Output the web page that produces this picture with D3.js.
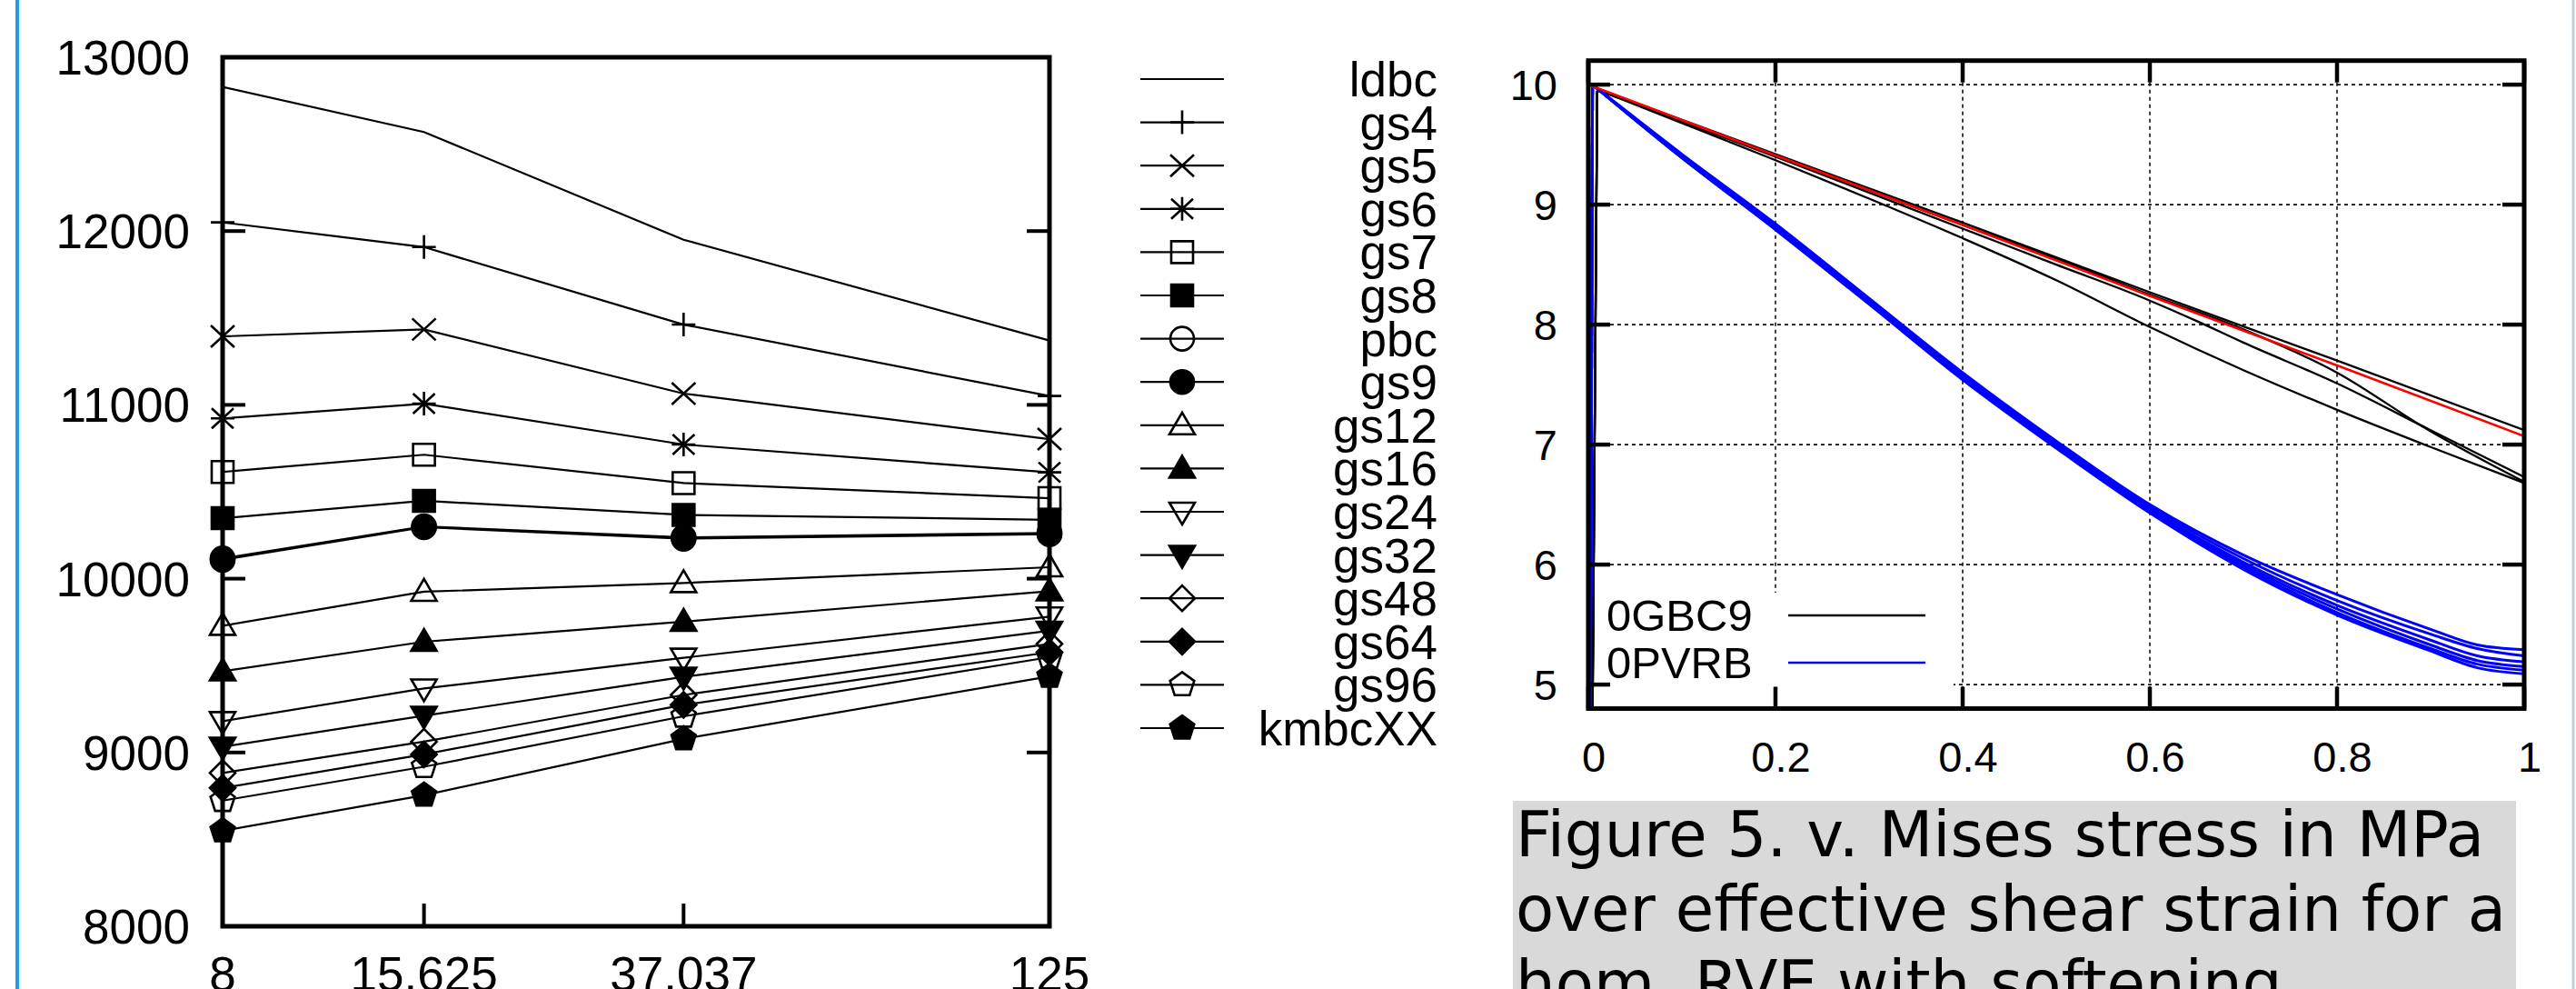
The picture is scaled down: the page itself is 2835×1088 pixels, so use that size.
<!DOCTYPE html>
<html lang="en">
<head>
<meta charset="utf-8">
<title>Figure 5</title>
<script src="https://d3js.org/d3.v7.min.js"></script>
<style>
  html, body { margin: 0; padding: 0; background: #fff; }
  svg { display: block; }
</style>
</head>
<body>
<script>
var width = 2835, height = 1088;

// ---- left chart data (stress vs. grains per RVE) ----
var sizes = [8, 15.625, 37.037, 125];
var sizeLabels = ["8", "15.625", "37.037", "125"];
var leftYTicks = [8000, 9000, 10000, 11000, 12000, 13000];
var names = ["ldbc", "gs4", "gs5", "gs6", "gs7", "gs8", "pbc", "gs9",
             "gs12", "gs16", "gs24", "gs32", "gs48", "gs64", "gs96", "kmbcXX"];
var ldbc   = [12829, 12570, 11950, 11370];
var gs4    = [12050, 11908, 11462, 11051];
var gs5    = [11394, 11434, 11065, 10803];
var gs6    = [10922, 11007, 10772, 10612];
var gs7    = [10614, 10713, 10550, 10463];
var gs8    = [10348, 10448, 10367, 10339];
var pbc    = [10108, 10296, 10230, 10256];
var gs9    = [10116, 10301, 10238, 10263];
var gs12   = [9729, 9925, 9975, 10066];
var gs16   = [9467, 9637, 9753, 9928];
var gs24   = [9180, 9368, 9545, 9782];
var gs32   = [9033, 9211, 9435, 9700];
var gs48   = [8882, 9062, 9331, 9625];
var gs64   = [8796, 8989, 9274, 9577];
var gs96   = [8723, 8918, 9208, 9548];
var kmbcXX = [8549, 8754, 9078, 9438];
var leftSeries = [ldbc, gs4, gs5, gs6, gs7, gs8, pbc, gs9, gs12, gs16, gs24, gs32, gs48, gs64, gs96, kmbcXX];

// gnuplot point type used by each series
var pointTypes = ["none", "plus", "cross", "star", "square", "squareF", "circle", "circleF",
                  "tri", "triF", "triDown", "triDownF", "diamond", "diamondF", "pent", "pentF"];

// ---- right chart data (stress in MPa vs. effective shear strain) ----
var strainTicks = [0, 0.2, 0.4, 0.6, 0.8, 1];
var strainLabels = ["0", "0.2", "0.4", "0.6", "0.8", "1"];
var stressTicks = [5, 6, 7, 8, 9, 10];
var gbcCurves = [
  [[0, 0], [0.0095, 9.94], [0.012, 9.96], [0.2, 9.42], [0.4, 8.85], [0.6, 8.27], [0.8, 7.70], [1, 7.12]],
  [[0, 0], [0.0095, 9.94], [0.012, 9.95], [0.1, 9.69], [0.2, 9.40], [0.3, 9.10], [0.4, 8.80], [0.5, 8.50],
   [0.6, 8.20], [0.65, 8.03], [0.7, 7.85], [0.8, 7.51], [0.9, 7.12], [1, 6.73]],
  [[0, 0], [0.0095, 9.94], [0.012, 9.96], [0.1, 9.70], [0.2, 9.41], [0.3, 9.12], [0.4, 8.83], [0.5, 8.55],
   [0.6, 8.25], [0.7, 7.96], [0.8, 7.60], [0.9, 7.11], [1, 6.69]],
  [[0, 0], [0.0095, 9.94], [0.012, 9.95], [0.1, 9.68], [0.2, 9.37], [0.3, 9.05], [0.4, 8.72], [0.5, 8.37],
   [0.6, 7.98], [0.7, 7.62], [0.8, 7.29], [0.9, 6.98], [1, 6.68]]
];
var pvrbCurves = [
  [[0, 0], [0.0045, 10], [0.1, 9.42], [0.2, 8.84], [0.3, 8.22], [0.4, 7.60], [0.5, 7.03], [0.6, 6.50], [0.7, 6.08], [0.8, 5.75], [0.9, 5.46], [0.95, 5.33], [1, 5.29]],
  [[0, 0], [0.0045, 10], [0.1, 9.41], [0.2, 8.83], [0.3, 8.21], [0.4, 7.58], [0.5, 7.01], [0.6, 6.48], [0.7, 6.05], [0.8, 5.70], [0.9, 5.42], [0.95, 5.30], [1, 5.24]],
  [[0, 0], [0.0045, 10], [0.1, 9.40], [0.2, 8.82], [0.3, 8.20], [0.4, 7.57], [0.5, 7.00], [0.6, 6.46], [0.7, 6.02], [0.8, 5.66], [0.9, 5.37], [0.95, 5.24], [1, 5.19]],
  [[0, 0], [0.0045, 10], [0.1, 9.40], [0.2, 8.81], [0.3, 8.19], [0.4, 7.56], [0.5, 6.99], [0.6, 6.45], [0.7, 6.00], [0.8, 5.63], [0.9, 5.33], [0.95, 5.20], [1, 5.15]],
  [[0, 0], [0.0045, 10], [0.1, 9.39], [0.2, 8.80], [0.3, 8.18], [0.4, 7.55], [0.5, 6.98], [0.6, 6.44], [0.7, 5.98], [0.8, 5.60], [0.9, 5.30], [0.95, 5.17], [1, 5.12]],
  [[0, 0], [0.0045, 10], [0.1, 9.39], [0.2, 8.79], [0.3, 8.17], [0.4, 7.54], [0.5, 6.97], [0.6, 6.43], [0.7, 5.96], [0.8, 5.58], [0.9, 5.28], [0.95, 5.14], [1, 5.09]]
];
var refCurve = [[0, 10], [0.2, 9.41], [0.4, 8.83], [0.6, 8.24], [0.8, 7.66], [1, 7.07]];
var rightLegend = ["0GBC9", "0PVRB"];
var captionLines = ["Figure 5. v. Mises stress in MPa",
                    "over effective shear strain for a",
                    "hom. RVE with softening"];

var svg = d3.select("body").append("svg")
    .attr("width", width)
    .attr("height", height);

var tickFont = "'Liberation Sans', Arial, Helvetica, sans-serif";

// page borders
svg.append("line").attr("x1", 19).attr("x2", 19).attr("y1", 0).attr("y2", height)
    .attr("stroke", "#1d9fe0").attr("stroke-width", 4);
svg.append("line").attr("x1", 2832).attr("x2", 2832).attr("y1", 0).attr("y2", height)
    .attr("stroke", "#c2d3e0").attr("stroke-width", 3);

// ================= left chart =================
var x1 = d3.scaleLog().domain([8, 125]).range([245, 1155]);
var y1 = d3.scaleLinear().domain([8000, 13000]).range([1019, 63]);

var left = svg.append("g");

// ticks (inward)
leftYTicks.forEach(function(t) {
  left.append("line").attr("x1", x1(8)).attr("x2", x1(8) + 25)
      .attr("y1", y1(t)).attr("y2", y1(t)).attr("stroke", "#000").attr("stroke-width", 4);
  left.append("line").attr("x1", x1(125) - 25).attr("x2", x1(125))
      .attr("y1", y1(t)).attr("y2", y1(t)).attr("stroke", "#000").attr("stroke-width", 4);
  left.append("text").attr("x", 209).attr("y", y1(t) + 19)
      .attr("text-anchor", "end").attr("font-family", tickFont).attr("font-size", 53)
      .text(t);
});
sizes.forEach(function(s, i) {
  left.append("line").attr("x1", x1(s)).attr("x2", x1(s))
      .attr("y1", y1(8000)).attr("y2", y1(8000) - 25).attr("stroke", "#000").attr("stroke-width", 4);
  left.append("text").attr("x", x1(s)).attr("y", 1090)
      .attr("text-anchor", "middle").attr("font-family", tickFont).attr("font-size", 53)
      .text(sizeLabels[i]);
});

function markerPath(type) {
  if (type.indexOf("plus") == 0) return "M-13,0H13M0,-13V13";
  if (type.indexOf("cross") == 0) return "M-13,-12L13,12M-13,12L13,-12";
  if (type.indexOf("star") == 0) return "M-13,0H13M0,-13V13M-12,-11L12,11M-12,11L12,-11";
  if (type.indexOf("square") == 0) return "M-12,-12H12V12H-12Z";
  if (type.indexOf("triDown") == 0) return "M0,14L14,-10H-14Z";
  if (type.indexOf("tri") == 0) return "M0,-14L14,10H-14Z";
  if (type.indexOf("diamond") == 0) return "M0,-14L14,0L0,14L-14,0Z";
  if (type.indexOf("pent") == 0) {
    var pts = [];
    for (var k = 0; k < 5; k++) {
      var a = -Math.PI / 2 + k * 2 * Math.PI / 5;
      pts.push([14 * Math.cos(a), 14 * Math.sin(a)]);
    }
    return "M" + pts.join("L") + "Z";
  }
  return null;
}

function drawMarker(g, type, x, y) {
  if (type == "none") return;
  var filled = type.charAt(type.length - 1) == "F";
  if (type.indexOf("circle") == 0) {
    g.append("circle").attr("cx", x).attr("cy", y).attr("r", 13)
        .attr("fill", filled ? "#000" : "none").attr("stroke", "#000").attr("stroke-width", 2.6);
    return;
  }
  g.append("path").attr("d", markerPath(type))
      .attr("transform", "translate(" + x + "," + y + ")")
      .attr("fill", filled ? "#000" : "none")
      .attr("stroke", "#000").attr("stroke-width", 2.6);
}

var line1 = d3.line()
    .x(function(d, i) { return x1(sizes[i]); })
    .y(function(d) { return y1(d); });

leftSeries.forEach(function(vals, si) {
  left.append("path").attr("d", line1(vals))
      .attr("fill", "none").attr("stroke", "#000").attr("stroke-width", 2.2);
  vals.forEach(function(v, i) { drawMarker(left, pointTypes[si], x1(sizes[i]), y1(v)); });
});

// frame (no ticks on top)
left.append("rect").attr("x", x1(8)).attr("y", y1(13000))
    .attr("width", x1(125) - x1(8)).attr("height", y1(8000) - y1(13000))
    .attr("fill", "none").attr("stroke", "#000").attr("stroke-width", 5);

// legend for left chart
var legY = d3.scaleLinear().domain([0, 15]).range([87, 801]);
names.forEach(function(n, i) {
  var yy = legY(i);
  left.append("line").attr("x1", 1255).attr("x2", 1347).attr("y1", yy).attr("y2", yy)
      .attr("stroke", "#000").attr("stroke-width", 2.2);
  drawMarker(left, pointTypes[i], 1301, yy);
  left.append("text").attr("x", 1582).attr("y", yy + 19)
      .attr("text-anchor", "end").attr("font-family", tickFont).attr("font-size", 53)
      .text(n);
});

// ================= right chart =================
var x2 = d3.scaleLinear().domain([0, 1]).range([1748, 2778]);
var y2 = d3.scaleLinear().domain([4.8, 10.2]).range([779.5, 66.7]);

var right = svg.append("g");

right.append("clipPath").attr("id", "clipR").append("rect")
    .attr("x", x2(0)).attr("y", y2(10.2)).attr("width", x2(1) - x2(0)).attr("height", y2(4.8) - y2(10.2));

// grid
stressTicks.forEach(function(t) {
  right.append("line").attr("x1", x2(0)).attr("x2", x2(1)).attr("y1", y2(t)).attr("y2", y2(t))
      .attr("stroke", "#111").attr("stroke-width", 1.6).attr("stroke-dasharray", "4,4");
});
strainTicks.slice(1, -1).forEach(function(t) {
  right.append("line").attr("x1", x2(t)).attr("x2", x2(t)).attr("y1", y2(10.2)).attr("y2", y2(4.8))
      .attr("stroke", "#111").attr("stroke-width", 1.6).attr("stroke-dasharray", "4,4");
});

// legend box blanks the grid behind the key
right.append("rect").attr("x", 1760).attr("y", 652).attr("width", 390).attr("height", 126)
    .attr("fill", "#fff");

var lineStraight = d3.line()
    .x(function(d) { return x2(d[0]); })
    .y(function(d) { return y2(d[1]); });
var lineSmooth = d3.line()
    .curve(d3.curveMonotoneX)
    .x(function(d) { return x2(d[0]); })
    .y(function(d) { return y2(d[1]); });

// elastic loading drawn straight, softening branch smoothed
function drawCurve(g, c, color, w) {
  var peak = d3.maxIndex(c, function(d) { return d[1]; });
  g.append("path").attr("d", lineStraight(c.slice(0, peak + 1))).attr("fill", "none")
      .attr("stroke", color).attr("stroke-width", w);
  g.append("path").attr("d", lineSmooth(c.slice(peak))).attr("fill", "none")
      .attr("stroke", color).attr("stroke-width", w);
}

var curves = right.append("g").attr("clip-path", "url(#clipR)");
gbcCurves.forEach(function(c) { drawCurve(curves, c, "#000", 2.3); });
pvrbCurves.forEach(function(c) { drawCurve(curves, c, "#0000ff", 3); });
drawCurve(curves, refCurve, "#ff0000", 2.6);

// ticks (inward) and labels
stressTicks.forEach(function(t) {
  right.append("line").attr("x1", x2(0)).attr("x2", x2(0) + 24).attr("y1", y2(t)).attr("y2", y2(t))
      .attr("stroke", "#000").attr("stroke-width", 4.5);
  right.append("line").attr("x1", x2(1) - 24).attr("x2", x2(1)).attr("y1", y2(t)).attr("y2", y2(t))
      .attr("stroke", "#000").attr("stroke-width", 4.5);
  right.append("text").attr("x", 1714).attr("y", y2(t) + 17)
      .attr("text-anchor", "end").attr("font-family", tickFont).attr("font-size", 47)
      .text(t);
});
strainTicks.forEach(function(t, i) {
  right.append("line").attr("x1", x2(t)).attr("x2", x2(t)).attr("y1", y2(4.8)).attr("y2", y2(4.8) - 24)
      .attr("stroke", "#000").attr("stroke-width", 4.5);
  right.append("line").attr("x1", x2(t)).attr("x2", x2(t)).attr("y1", y2(10.2)).attr("y2", y2(10.2) + 24)
      .attr("stroke", "#000").attr("stroke-width", 4.5);
  right.append("text").attr("x", x2(t) + 6).attr("y", 849)
      .attr("text-anchor", "middle").attr("font-family", tickFont).attr("font-size", 47)
      .text(strainLabels[i]);
});

right.append("rect").attr("x", x2(0)).attr("y", y2(10.2))
    .attr("width", x2(1) - x2(0)).attr("height", y2(4.8) - y2(10.2))
    .attr("fill", "none").attr("stroke", "#000").attr("stroke-width", 5);

// key
var keyColors = ["#000", "#0000ff"];
rightLegend.forEach(function(n, i) {
  var yy = 677 + i * 52;
  right.append("text").attr("x", 1768).attr("y", yy + 17)
      .attr("font-family", tickFont).attr("font-size", 49).text(n);
  right.append("line").attr("x1", 1968).attr("x2", 2119).attr("y1", yy).attr("y2", yy)
      .attr("stroke", keyColors[i]).attr("stroke-width", 2.3);
});

// ================= caption =================
svg.append("rect").attr("x", 1665).attr("y", 881).attr("width", 1104).attr("height", 220)
    .attr("fill", "#d9d9d9");
captionLines.forEach(function(s, i) {
  svg.append("text").attr("x", 1668).attr("y", 942 + i * 82)
      .attr("font-family", "'DejaVu Sans', sans-serif").attr("font-size", 69)
      .attr("fill", "#000").text(s);
});
</script>
</body>
</html>
